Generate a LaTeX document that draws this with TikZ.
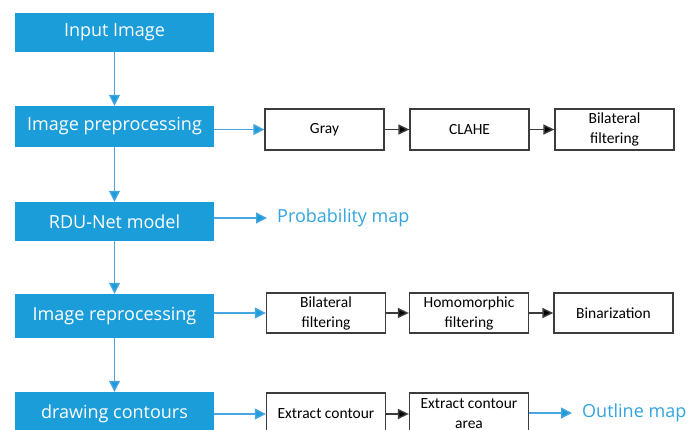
\documentclass[tikz,border=0pt]{standalone}
\usepackage{fontspec}
\setmainfont{Open Sans}
\newfontfamily\boxfont{Carlito}
\usetikzlibrary{arrows.meta}
\definecolor{bluefill}{RGB}{27,157,217}
\definecolor{blueline}{RGB}{72,165,224}
\definecolor{bluetext}{RGB}{50,165,222}
\definecolor{boxline}{RGB}{60,60,60}
\begin{document}
\begin{tikzpicture}[x=1pt,y=-1pt,
 bluebox/.style={fill=bluefill, text=white, minimum width=199pt, inner sep=0pt, font=\fontsize{18}{20}\selectfont},
 procbox/.style={draw=boxline, line width=1.3pt, fill=white, minimum width=119pt, inner sep=0pt, align=center, font=\boxfont\fontsize{15.5}{20}\selectfont},
 barrow/.style={draw=blueline, line width=1.4pt, -{Triangle[length=11pt,width=11pt,fill=bluefill]}},
 karrow/.style={draw=boxline, line width=1.4pt, -{Triangle[length=11pt,width=10pt,fill=black]}},
 outtext/.style={text=bluetext, inner sep=0pt, anchor=west, font=\fontsize{18}{20}\selectfont}]
\useasboundingbox (0,0) rectangle (689,430);
% main column
\node[bluebox, minimum height=39pt] (inp) at (114.5,32.5) {Input Image};
\node[bluebox, minimum height=41pt] (pre) at (114.5,126.5) {Image preprocessing};
\node[bluebox, minimum height=39pt] (rdu) at (114.5,221.5) {RDU-Net model};
\node[bluebox, minimum height=44pt] (rep) at (114.5,316) {Image reprocessing};
\node[bluebox, minimum height=44pt] (dc) at (114.5,414) {drawing contours};
% row 1
\node[procbox, minimum height=41pt] (gray) at (324.5,129.5) {Gray};
\node[procbox, minimum height=41pt] (clahe) at (469.5,129.5) {CLAHE};
\node[procbox, minimum height=41pt] (bil1) at (614.5,129.5) {Bilateral\\filtering};
% probability
\node[outtext] (prob) at (277,218) {Probability map};
% row 3
\node[procbox, minimum height=40pt] (bil2) at (326,313) {Bilateral\\filtering};
\node[procbox, minimum height=40pt] (homo) at (469,313) {Homomorphic\\filtering};
\node[procbox, minimum height=40pt] (bin) at (613.5,313) {Binarization};
% row 4
\node[procbox, minimum height=42pt] (ec) at (326,414) {Extract contour};
\node[procbox, minimum height=42pt] (eca) at (469,414) {Extract contour\\area};
\node[outtext] (out) at (582,413) {Outline map};
% vertical arrows
\draw[barrow] (inp) -- (pre);
\draw[barrow] (pre) -- (rdu);
\draw[barrow] (rdu) -- (rep);
\draw[barrow] (rep) -- (dc);
% horizontal arrows
\draw[barrow] (pre.east |- gray.west) -- (gray.west);
\draw[karrow] (gray) -- (clahe);
\draw[karrow] (clahe) -- (bil1);
\draw[barrow, shorten >=10pt] (rdu.east |- prob.west) -- (prob.west);
\draw[barrow] (rep.east |- bil2.west) -- (bil2.west);
\draw[karrow] (bil2) -- (homo);
\draw[karrow] (homo) -- (bin);
\draw[barrow] (dc.east |- ec.west) -- (ec.west);
\draw[karrow] (ec) -- (eca);
\draw[barrow, shorten >=10pt] (eca.east |- out.west) -- (out.west);
\end{tikzpicture}
\end{document}
